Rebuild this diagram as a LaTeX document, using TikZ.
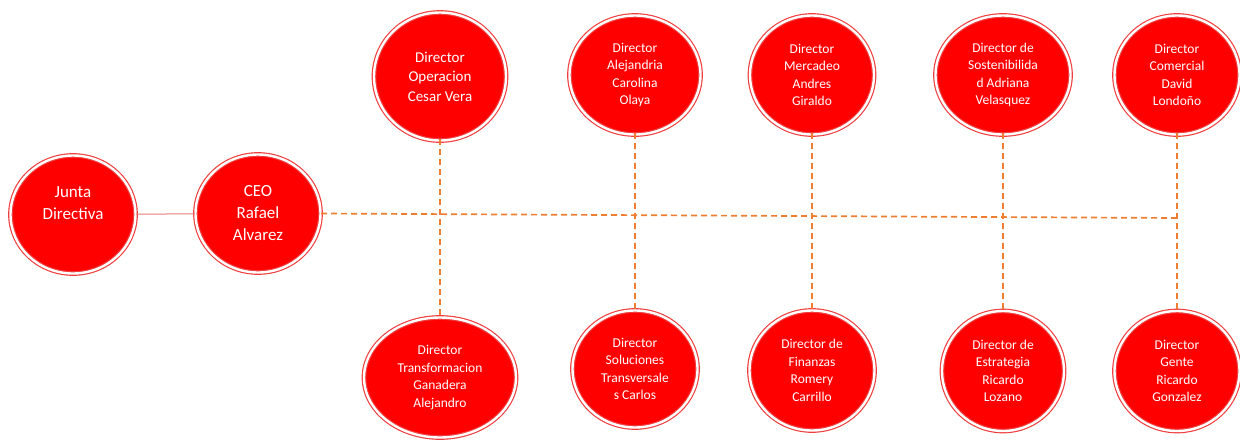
\documentclass[tikz,border=0pt]{standalone}
\usepackage{fontspec}
\setmainfont{Carlito}
\usetikzlibrary{shapes.geometric}
\definecolor{boxred}{HTML}{FF0000}
\definecolor{ringred}{HTML}{F03C3C}
\definecolor{linkorange}{HTML}{ED7D31}
\definecolor{linkred}{HTML}{E87A7A}
\begin{document}
\begin{tikzpicture}[x=1pt,y=-1pt,
  person/.style={ellipse, fill=boxred, draw=ringred, line width=1.15pt,
    double=white, double distance=2.4pt, text=white, align=center, inner sep=0pt},
  dims/.style 2 args={minimum width=#1pt, minimum height=#2pt},
  big/.style={font=\fontsize{17}{22}\selectfont},
  mid/.style={font=\fontsize{15}{19.5}\selectfont},
  small/.style={font=\fontsize{13.5}{17.5}\selectfont},
  dl/.style={linkorange, line width=1.7pt, dash pattern=on 6pt off 4pt},
  solidlink/.style={linkred, line width=1pt}]
\useasboundingbox (0,0) rectangle (1240,440);

% board and CEO
\node[person, dims={125}{118}, big] (jd)  at (73,214.5) {Junta\\Directiva\\\mbox{}};
\node[person, dims={125}{118}, big] (ceo) at (258,213.5) {CEO\\Rafael\\Alvarez};

% upper row of directors
\node[person, dims={132}{128}, mid]   (opr) at (440,76.5) {Director\\Operacion\\Cesar Vera};
\node[person, dims={131}{119}, small] (ale) at (635,75) {Director\\Alejandria\\Carolina\\Olaya};
\node[person, dims={124}{119}, small] (mer) at (812,75) {Director\\Mercadeo\\Andres\\Giraldo};
\node[person, dims={135}{119}, small] (sos) at (1003,75) {Director de\\Sostenibilida\\d Adriana\\Velasquez};
\node[person, dims={125}{119}, small] (com) at (1177,75) {Director\\Comercial\\David\\Londoño};

% lower row of directors
\node[person, dims={152}{120}, small] (tra) at (440,377.5) {Director\\Transformacion\\Ganadera\\Alejandro};
\node[person, dims={125}{117}, small] (sol) at (635,369) {Director\\Soluciones\\Transversale\\s Carlos};
\node[person, dims={125}{120}, small] (fin) at (812,370.5) {Director de\\Finanzas\\Romery\\Carrillo};
\node[person, dims={122}{120}, small] (est) at (1003,371) {Director de\\Estrategia\\Ricardo\\Lozano};
\node[person, dims={125}{120}, small] (gen) at (1177,371) {Director\\Gente\\Ricardo\\Gonzalez};

% connectors
\coordinate (busend) at (1178,218);
\draw[solidlink] (jd) -- (ceo);
\draw[dl] (ceo.east) -- (busend);
\draw[dl] ([yshift=2pt]opr.south) -- (tra.north);
\draw[dl] ([yshift=2pt]ale.south) -- (sol.north);
\draw[dl] ([yshift=2pt]mer.south) -- (fin.north);
\draw[dl] ([yshift=2pt]sos.south) -- (est.north);
\draw[dl] ([yshift=2pt]com.south) -- (gen.north);
\end{tikzpicture}
\end{document}
